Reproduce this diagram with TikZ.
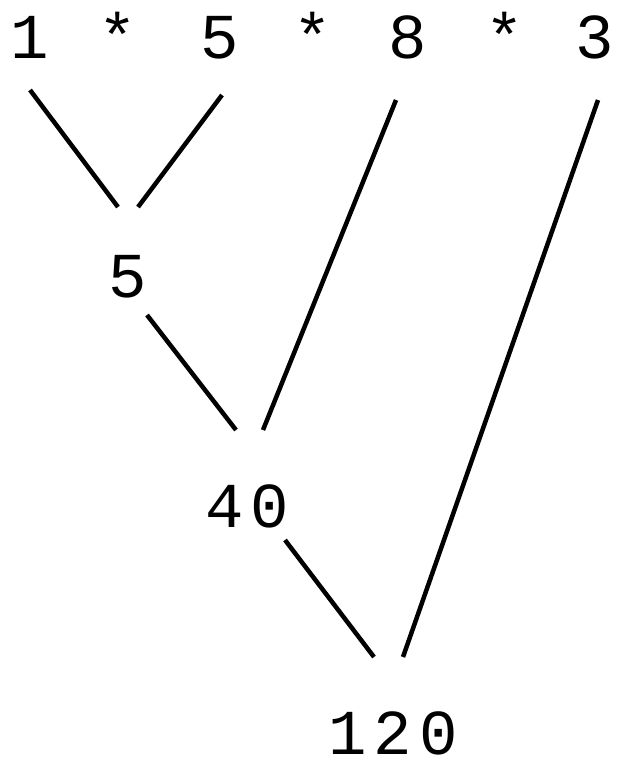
\documentclass[tikz,border=0pt]{standalone}
\usepackage{fontspec}
\setmonofont{Liberation Mono}
\usetikzlibrary{calc}
\tikzstyle{num} = [anchor=base, inner sep=0pt, text depth=0pt, font=\fontsize{64}{64}\selectfont\ttfamily]
\tikzstyle{edge} = [line width=4.5pt]

\begin{document}
\begin{tikzpicture}[x=1pt, y=-1pt]
    \useasboundingbox (0,0) rectangle (617,763);
    % Top row
    \node (t1) [num] at (30,58) {1};
    \node (s1) [num] at (118,58) {*};
    \node (t5) [num] at (220,58) {5};
    \node (s2) [num] at (313,58) {*};
    \node (t8) [num] at (408,58) {8};
    \node (s3) [num] at (505,58) {*};
    \node (t3) [num] at (595,58) {3};

    % Partial products
    \node (r5) [num] at (128,297) {5};
    \node (r40) [num] at (247,527) {\addfontfeature{LetterSpace=11}40};
    \node (r120) [num] at (393,754) {\addfontfeature{LetterSpace=11}120};

    % Lines
    \draw [edge] ($(t1.base)+(0,32)$) -- ($(r5.base)+(-10,-90)$);
    \draw [edge] ($(t5.base)+(2,37)$) -- ($(r5.base)+(10,-90)$);
    \draw [edge] ($(r5.base)+(19,18)$) -- ($(r40.base)+(-11,-97)$);
    \draw [edge] ($(t8.base)+(-12,42)$) -- ($(r40.base)+(16,-97)$);
    \draw [edge] ($(r40.base)+(38,13)$) -- ($(r120.base)+(-19,-97)$);
    \draw [edge] ($(t3.base)+(3,42)$) -- ($(r120.base)+(10,-97)$);
\end{tikzpicture}
\end{document}
